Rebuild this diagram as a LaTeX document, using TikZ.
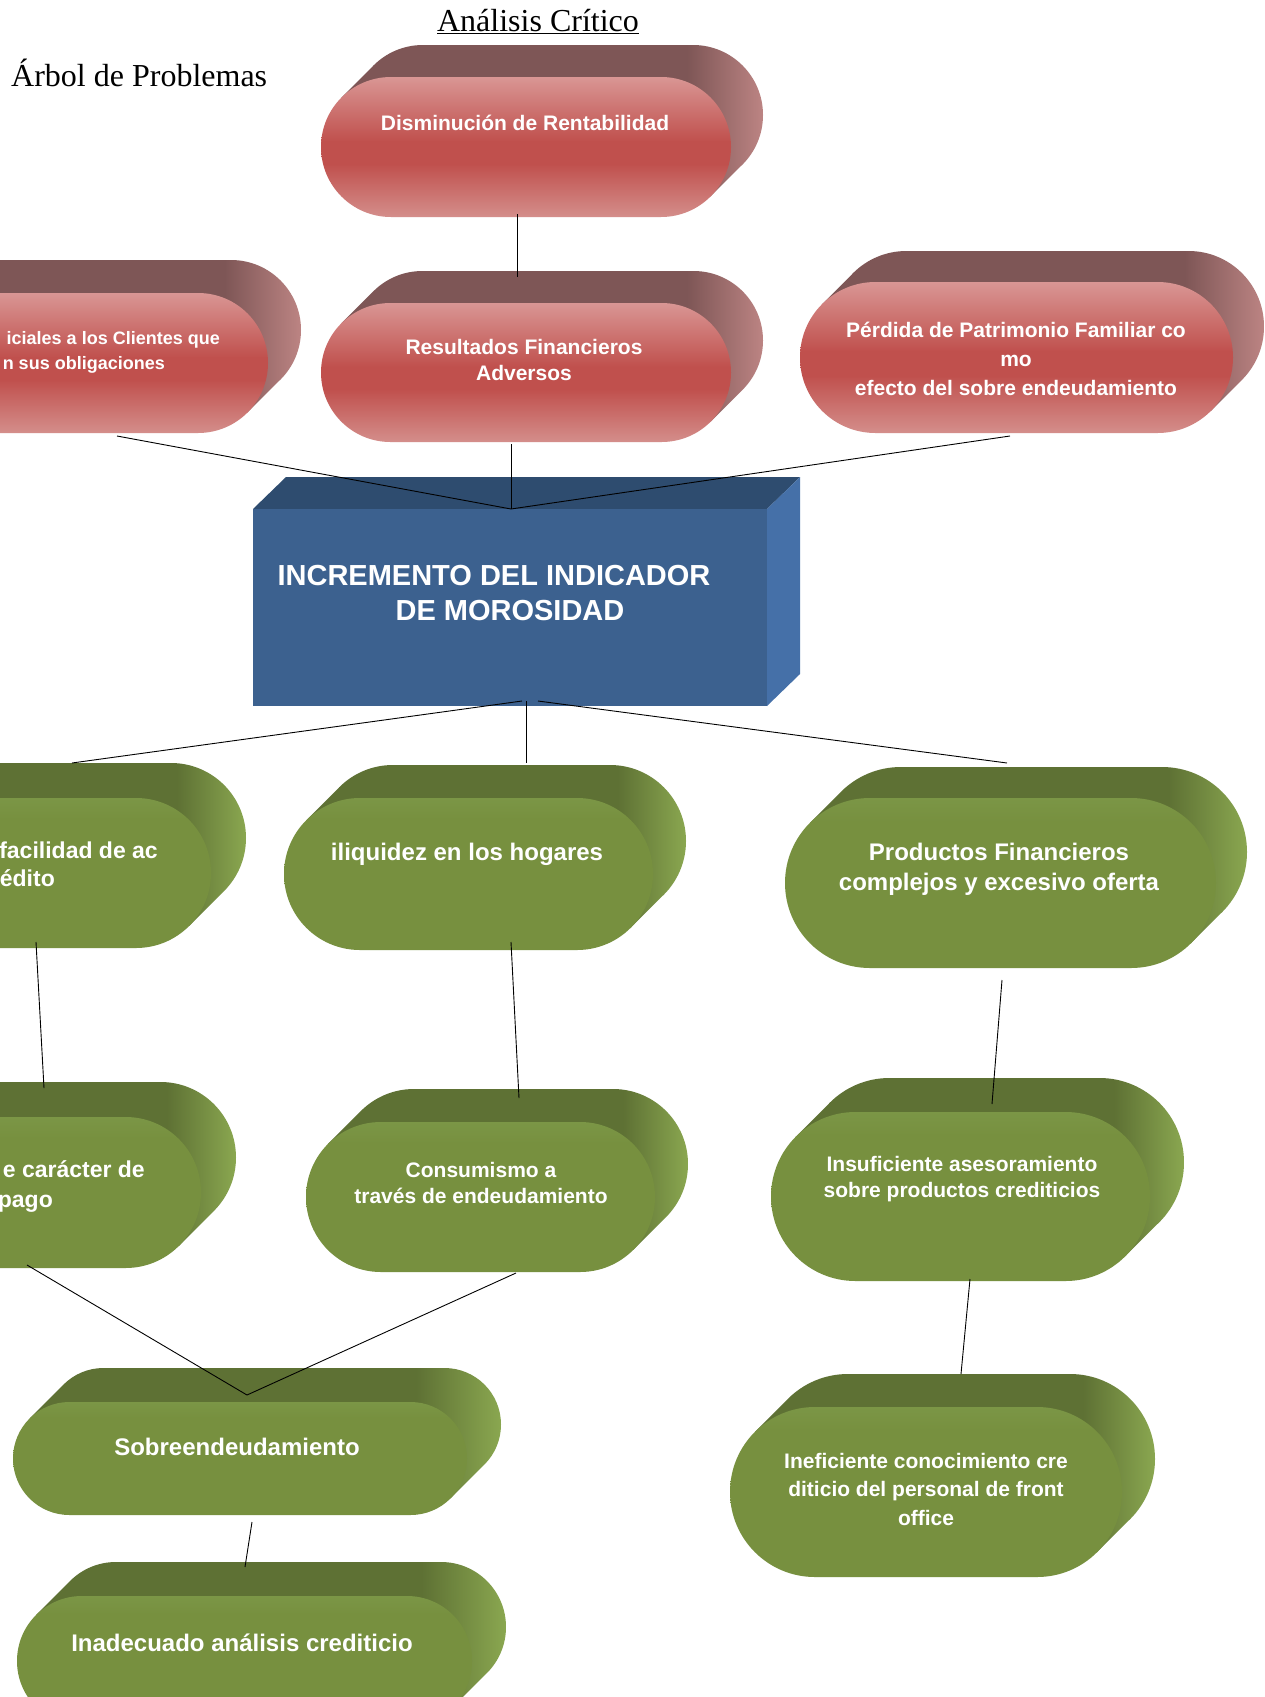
\documentclass[tikz,border=0pt]{standalone}
\usepackage{fontspec}
\setmainfont{Liberation Serif}
\newfontfamily\arialf{Liberation Sans}
\definecolor{rsA}{HTML}{7E5656}
\definecolor{rsB}{HTML}{BC8483}
\definecolor{rfL}{HTML}{D99694}
\definecolor{rfM}{HTML}{C0504D}
\definecolor{rfB}{HTML}{D48E8B}
\definecolor{gsA}{HTML}{5E7134}
\definecolor{gsB}{HTML}{8AA750}
\definecolor{gfT}{HTML}{7B9646}
\definecolor{gfM}{HTML}{77903F}
\definecolor{bfront}{HTML}{3C618F}
\definecolor{btop}{HTML}{2E4C6F}
\definecolor{bside}{HTML}{4570A8}
\pgfdeclarehorizontalshading{redside}{100bp}{color(0bp)=(rsA); color(25bp)=(rsA); color(66bp)=(rsA); color(75bp)=(rsB); color(100bp)=(rsB)}
\pgfdeclareverticalshading{redfront}{100bp}{color(0bp)=(rfB); color(25bp)=(rfB); color(44bp)=(rfM); color(52bp)=(rfM); color(75bp)=(rfL); color(100bp)=(rfL)}
\pgfdeclarehorizontalshading{greenside}{100bp}{color(0bp)=(gsA); color(25bp)=(gsA); color(66bp)=(gsA); color(75bp)=(gsB); color(100bp)=(gsB)}
\pgfdeclareverticalshading{greenfront}{100bp}{color(0bp)=(gfM); color(25bp)=(gfM); color(68bp)=(gfM); color(75bp)=(gfT); color(100bp)=(gfT)}
\newcommand{\capsule}[7]{%
  \pgfmathsetmacro\cXa{#1}%
  \pgfmathsetmacro\cYa{#2}%
  \pgfmathsetmacro\cXb{#3}%
  \pgfmathsetmacro\cYb{#4}%
  \pgfmathsetmacro\cD{#5}%
  \pgfmathsetmacro\cR{(#4-#2)/2*0.999}%
  \pgfmathsetmacro\cYm{(#2+#4)/2}%
  \pgfmathsetmacro\cK{\cR*0.7071}%
  \shade[#6] [rounded corners=\cR pt]
    (\cXa+\cD,\cYa-\cD) -- (\cXb+\cD,\cYa-\cD) -- (\cXb+\cD,\cYb-\cD) -- (\cXa+\cD,\cYb-\cD) -- cycle
    [sharp corners]
    (\cXa+\cR-\cK,\cYm-\cK) -- (\cXa+\cR-\cK+\cD,\cYm-\cK-\cD) -- (\cXb-\cR+\cK+\cD,\cYm+\cK-\cD) -- (\cXb-\cR+\cK,\cYm+\cK) -- cycle;
  \shade[#7, rounded corners=\cR pt]
    (\cXa,\cYa) -- (\cXb,\cYa) -- (\cXb,\cYb) -- (\cXa,\cYb) -- cycle;
}
\tikzset{
  rside/.style={shading=redside},
  rfront/.style={shading=redfront},
  gside/.style={shading=greenside},
  gfront/.style={shading=greenfront},
  lbl/.style={font=\arialf\bfseries\fontsize{21}{26}\selectfont, text=white, align=center, inner sep=0pt, anchor=base},
  lblg/.style={lbl, font=\arialf\bfseries\fontsize{24}{29}\selectfont},
  lblgs/.style={lbl, font=\arialf\bfseries\fontsize{23}{28}\selectfont},
  link/.style={draw=black, line width=0.9pt},
}
\begin{document}
\begin{tikzpicture}[x=1pt,y=-1pt]
\useasboundingbox (0,0) rectangle (1264,1697);
\clip (0,0) rectangle (1264,1697);
\fill[white] (0,0) rectangle (1264,1697);

% red effects
\capsule{321}{77}{731}{217}{32}{rside}{rfront}
\capsule{-145}{293}{268}{433}{33}{rside}{rfront}
\capsule{321}{303}{731}{442}{32}{rside}{rfront}
\capsule{800}{282}{1233}{433}{31}{rside}{rfront}

% central problem box
\fill[btop] (253,509) -- (286,477) -- (800,477) -- (767,509) -- cycle;
\fill[bside] (767,509) -- (800,477) -- (800,674) -- (767,706) -- cycle;
\fill[bfront] (253,509) rectangle (767,706);

% green causes
\capsule{-160}{798}{211}{948}{35}{gside}{gfront}
\capsule{284}{798}{653}{950}{33}{gside}{gfront}
\capsule{785}{798}{1216}{968}{31}{gside}{gfront}
\capsule{-170}{1117}{201}{1268}{35}{gside}{gfront}
\capsule{306}{1122}{655}{1272}{33}{gside}{gfront}
\capsule{771}{1112}{1150}{1281}{34}{gside}{gfront}
\capsule{13}{1402}{467}{1515}{34}{gside}{gfront}
\capsule{730}{1407}{1122}{1577}{33}{gside}{gfront}
\capsule{17}{1596}{472}{1726}{34}{gside}{gfront}

% connector end points
\coordinate (r1b) at (517,214);
\coordinate (r3t) at (517,277);
\coordinate (r2b) at (117,436);
\coordinate (r3b) at (511,444);
\coordinate (r4b) at (1010,436);
\coordinate (apexT) at (511,509);
\coordinate (bl) at (522,701);
\coordinate (bm) at (526,701);
\coordinate (br) at (538,701);
\coordinate (g1t) at (72,763);
\coordinate (g2t) at (526,763);
\coordinate (g3t) at (1007,763);
\coordinate (g1b) at (36,942);
\coordinate (g4t) at (44,1088);
\coordinate (g2b) at (511,942);
\coordinate (g5t) at (519,1098);
\coordinate (g3b) at (1002,980);
\coordinate (g6t) at (992,1104);
\coordinate (g6b) at (970,1279);
\coordinate (g8t) at (961,1374);
\coordinate (g4b) at (27,1265);
\coordinate (g5b) at (516,1273);
\coordinate (g7t) at (247,1395);
\coordinate (g7b) at (252,1522);
\coordinate (g9t) at (245,1567);

\draw[link] (r1b) -- (r3t);
\draw[link] (r2b) -- (apexT);
\draw[link] (r3b) -- (apexT);
\draw[link] (r4b) -- (apexT);
\draw[link] (bl) -- (g1t);
\draw[link] (bm) -- (g2t);
\draw[link] (br) -- (g3t);
\draw[link] (g1b) -- (g4t);
\draw[link] (g2b) -- (g5t);
\draw[link] (g3b) -- (g6t);
\draw[link] (g6b) -- (g8t);
\draw[link] (g4b) -- (g7t);
\draw[link] (g5b) -- (g7t);
\draw[link] (g7b) -- (g9t);

% titles
\node[font=\fontsize{32}{38}\selectfont, anchor=base, inner sep=0pt] (title) at (538,31) {\underline{Análisis Crítico}};
\node[font=\fontsize{32}{38}\selectfont, anchor=base west, inner sep=0pt] (subtitle) at (11,86) {Árbol de Problemas};

% labels (multi-line nodes: anchor=base is the baseline of the last line)
\node[lbl] (tR1) at (525,130) {Disminución de Rentabilidad};
\node[lbl, font=\arialf\bfseries\fontsize{18}{23}\selectfont, anchor=base east] (tR2a) at (220,344) {iciales a los Clientes que};
\node[lbl, font=\arialf\bfseries\fontsize{18}{23}\selectfont, anchor=base east] (tR2b) at (165,369) {n sus obligaciones};
\node[lbl] (tR3) at (524,380) {Resultados Financieros\\Adversos};
\node[lbl, font=\arialf\bfseries\fontsize{21}{29}\selectfont] (tR4) at (1016,395) {Pérdida de Patrimonio Familiar co\\mo\\efecto del sobre endeudamiento};
\node[lbl, font=\arialf\bfseries\fontsize{29}{35}\selectfont] (tB) at (494,620) {INCREMENTO DEL INDICADOR\\\hspace*{32pt}DE MOROSIDAD};
\node[lblgs, anchor=base east] (tG1a) at (158,858) {facilidad de ac};
\node[lblgs, anchor=base east] (tG1b) at (55,886) {édito};
\node[lblg] (tG2) at (467,860) {iliquidez en los hogares};
\node[lblg, font=\arialf\bfseries\fontsize{24}{30}\selectfont] (tG3) at (999,890) {Productos Financieros\\complejos y excesivo oferta};
\node[lblgs, anchor=base east] (tG4a) at (145,1177) {e carácter de};
\node[lblgs, anchor=base east] (tG4b) at (53,1207) {pago};
\node[lbl] (tG5) at (481,1203) {Consumismo a\\través de endeudamiento};
\node[lbl] (tG6) at (962,1197) {Insuficiente asesoramiento\\sobre productos crediticios};
\node[lblg] (tG7) at (237,1455) {Sobreendeudamiento};
\node[lbl, font=\arialf\bfseries\fontsize{21}{28.5}\selectfont] (tG8) at (926,1525) {Ineficiente conocimiento cre\\diticio del personal de front\\office};
\node[lblg] (tG9) at (242,1651) {Inadecuado análisis crediticio};
\end{tikzpicture}
\end{document}
